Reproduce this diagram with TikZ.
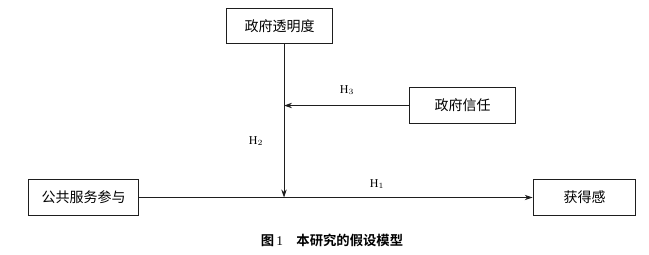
\documentclass[tikz,border=0pt]{standalone}
\usepackage{fontspec}
\usepackage{xcolor}
\usetikzlibrary{arrows.meta,positioning,calc}
\setmainfont{Liberation Serif}
\newfontfamily\cjk{Noto Sans CJK SC}[BoldFont={* Bold}]
\definecolor{linegrey}{RGB}{30,30,30}
\tikzset{
  varbox/.style={draw=linegrey,thick,minimum height=26.5pt,inner sep=0pt,font=\cjk\fontsize{10.5}{12}\selectfont},
  hlink/.style={-{Stealth[length=6pt,width=4pt]},draw=linegrey,semithick},
  hlabel/.style={font=\fontsize{9}{10}\selectfont}
}

\begin{document}
\begin{tikzpicture}[x=0.75pt,y=-0.75pt]
  \useasboundingbox (0,0) rectangle (649,254);
  % variables
  \node[varbox,minimum width=80pt] (transp) at (279.5,26) {政府透明度};
  \node[varbox,minimum width=80pt] (trust) at (462.5,105.5) {政府信任};
  \node[varbox,minimum width=82pt] (serv) at (83.5,197.5) {公共服务参与};
  \node[varbox,minimum width=77pt] (gain) at (584.5,197.5) {获得感};
  \coordinate (mid) at (284,197.5);
  % hypotheses
  \draw[hlink] (serv) -- (gain);
  \draw[hlink] (transp.south -| mid) -- (mid);
  \draw[hlink] (trust.west) -- (trust.west -| mid);
  \node[hlabel] (h1) at (377,184) {H$_1$};
  \node[hlabel] (h2) at (256,141) {H$_2$};
  \node[hlabel] (h3) at (347,90) {H$_3$};
  \node[font=\cjk\bfseries\fontsize{10}{12}\selectfont] (cap) at (332,240.5)
    {图\,{\rmfamily\mdseries 1}\quad 本研究的假设模型};
\end{tikzpicture}
\end{document}
